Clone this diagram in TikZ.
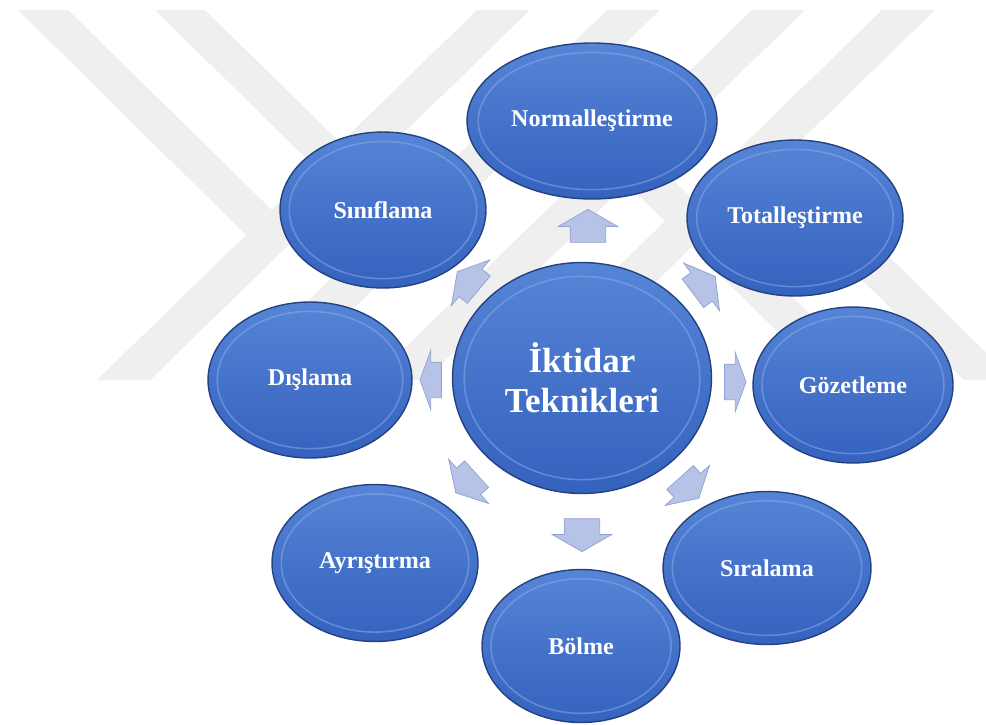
\documentclass[tikz,border=0pt]{standalone}
\usepackage{fontspec}
\setmainfont{Liberation Serif}
\usetikzlibrary{shapes.geometric,shapes.arrows,calc}
\definecolor{markgrey}{RGB}{239,239,239}
\definecolor{bubbletop}{RGB}{86,132,214}
\definecolor{bubblebot}{RGB}{52,98,190}
\definecolor{bubbleedge}{RGB}{36,66,128}
\definecolor{bubblerim}{RGB}{140,174,235}
\definecolor{arrowfill}{RGB}{182,195,230}
\definecolor{arrowedge}{RGB}{145,160,205}

\begin{document}
\begin{tikzpicture}[x=0.02cm, y=-0.02cm,
  bubble/.style = {ellipse, draw=bubbleedge, line width=0.8pt, top color=bubbletop,
    bottom color=bubblebot, text=white, inner sep=0pt,
    font=\fontsize{13.7}{16}\selectfont\bfseries,
    path picture={\draw[bubblerim, line width=0.9pt, draw opacity=0.5]
      let \p1=(path picture bounding box.north east), \p2=(path picture bounding box.center)
      in (\p2) ellipse [x radius={0.91*(\x1-\x2)}, y radius={0.88*(\y1-\y2)}];}},
  hub/.style = {bubble, align=center, font=\fontsize{19.9}{22.7}\selectfont\bfseries},
  arr/.style = {single arrow, draw=arrowedge, fill=arrowfill, line width=0.4pt,
    inner xsep=0pt, inner ysep=0.35cm, single arrow head extend=0.24cm,
    single arrow tip angle=120, minimum height=0.66cm, rotate=#1},
  flatarr/.style = {arr=#1, minimum height=0.43cm, single arrow tip angle=140},
  ]
  \useasboundingbox (0,0) rectangle (986,724);

  \foreach \turn in {0,180}{
    \begin{scope}[rotate around={\turn:(516,195)}]
      \fill[markgrey] (477,10) -- (530,10) -- (150,380) -- (97,380) -- cycle;
      \fill[markgrey] (607,10) -- (660,10) -- (280,380) -- (227,380) -- cycle;
      \fill[markgrey] (18,10) -- (68,10) -- (272,210) -- (246,235) -- cycle;
      \fill[markgrey] (155,10) -- (205,10) -- (405,206) -- (380,231) -- cycle;
    \end{scope}
  }

  \node[arr=90] (up) at (588,231) {};
  \node[arr=-90] (down) at (582,530) {};
  \node[flatarr=0] (right) at (732,382) {};
  \node[flatarr=180] (left) at (434,380) {};
  \node[arr=37, minimum height=0.56cm] (upright) at (700,288) {};
  \node[arr=140, minimum height=0.56cm] (upleft) at (472,284) {};
  \node[arr=-48, minimum height=0.56cm] (downright) at (686,484) {};
  \node[arr=222, minimum height=0.56cm] (downleft) at (470,480) {};

  \node[hub, minimum width=5.18cm, minimum height=4.62cm] (power) at (582,378) {İktidar\\Teknikleri};
  \node[bubble, minimum width=5cm, minimum height=3.12cm] (norm) at (592,121) {Normalleştirme};
  \node[bubble, minimum width=4.12cm, minimum height=3.12cm] (class) at (383,210) {Sınıflama};
  \node[bubble, minimum width=4.32cm, minimum height=3.12cm] (total) at (795,218) {Totalleştirme};
  \node[bubble, minimum width=4cm, minimum height=3.12cm] (watch) at (853,385) {Gözetleme};
  \node[bubble, minimum width=4.08cm, minimum height=3.12cm] (exclude) at (310,380) {Dışlama};
  \node[bubble, minimum width=4.12cm, minimum height=3.14cm] (separate) at (375,563) {Ayrıştırma};
  \node[bubble, minimum width=3.96cm, minimum height=3.06cm] (divide) at (581,646) {Bölme};
  \node[bubble, minimum width=4.16cm, minimum height=3.06cm] (rank) at (767,568) {Sıralama};
\end{tikzpicture}
\end{document}
